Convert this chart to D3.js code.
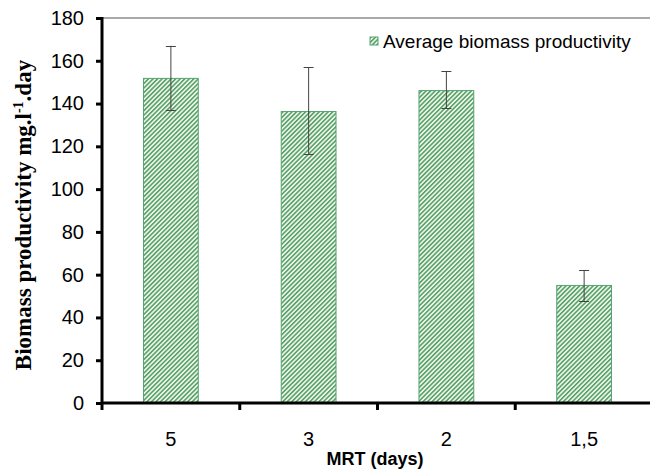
<!DOCTYPE html>
<html>
<head>
<meta charset="utf-8">
<script src="https://cdn.jsdelivr.net/npm/d3@7"></script>
<style>
  body { margin: 0; background: #fff; }
  svg { display: block; }
</style>
</head>
<body>
<script>
(function () {

    //chart data
    var categories = ["5", "3", "2", "1,5"];
    var productivity = [152, 136.5, 146.3, 55.2];
    var errLow = [137, 116.5, 137.8, 47.8];
    var errHigh = [167, 157, 155, 62.2];
    var yTicks = [0, 20, 40, 60, 80, 100, 120, 140, 160, 180];

    var width = 650, height = 470;
    var left = 102, right = 653, top = 18, bottom = 403;
    var sans = "Arial, 'Liberation Sans', sans-serif";

    var svg = d3.select("body").append("svg")
        .attr("width", width)
        .attr("height", height);

    //hatch pattern for the bars
    var defs = svg.append("defs");
    var pat = defs.append("pattern")
        .attr("id", "hatch")
        .attr("patternUnits", "userSpaceOnUse")
        .attr("width", 3.2)
        .attr("height", 3.2)
        .attr("patternTransform", "rotate(45)");
    pat.append("rect").attr("width", 3.2).attr("height", 3.2).attr("fill", "#f2f1e4");
    pat.append("rect").attr("width", 1.5).attr("height", 3.2).attr("fill", "#4aa169");

    var x = d3.scaleBand()
        .domain(categories)
        .range([left, right])
        .paddingInner(0.595)
        .paddingOuter(0.2975);

    var y = d3.scaleLinear()
        .domain([0, 180])
        .range([bottom, top]);

    //top frame line
    svg.append("line")
        .attr("x1", left).attr("x2", width)
        .attr("y1", y(180)).attr("y2", y(180))
        .attr("stroke", "#555").attr("stroke-width", 1);

    //bars
    svg.selectAll(".bar")
        .data(productivity)
        .enter()
        .append("rect")
        .attr("class", "bar")
        .attr("x", function (d, i) { return x(categories[i]) + 0.5; })
        .attr("y", function (d) { return y(d) + 0.5; })
        .attr("width", x.bandwidth() - 1)
        .attr("height", function (d) { return y(0) - y(d) - 0.5; })
        .attr("fill", "url(#hatch)")
        .attr("stroke", "#55a372")
        .attr("stroke-width", 1);

    //error bars
    var eb = svg.selectAll(".err")
        .data(productivity)
        .enter()
        .append("g")
        .attr("class", "err")
        .attr("stroke", "#444")
        .attr("stroke-width", 1);
    eb.append("line")
        .attr("x1", function (d, i) { return x(categories[i]) + x.bandwidth() / 2; })
        .attr("x2", function (d, i) { return x(categories[i]) + x.bandwidth() / 2; })
        .attr("y1", function (d, i) { return y(errLow[i]); })
        .attr("y2", function (d, i) { return y(errHigh[i]); });
    [errLow, errHigh].forEach(function (arr) {
        eb.append("line")
            .attr("x1", function (d, i) { return x(categories[i]) + x.bandwidth() / 2 - 5; })
            .attr("x2", function (d, i) { return x(categories[i]) + x.bandwidth() / 2 + 5; })
            .attr("y1", function (d, i) { return Math.round(y(arr[i])) + 0.5; })
            .attr("y2", function (d, i) { return Math.round(y(arr[i])) + 0.5; });
    });

    //y axis
    var yAxis = svg.append("g")
        .attr("transform", "translate(" + left + ",0)")
        .call(d3.axisLeft(y).tickValues(yTicks).tickSize(6).tickPadding(12));
    yAxis.select(".domain").attr("stroke", "#000").attr("stroke-width", 3)
        .attr("d", "M0," + (y(180) - 1) + "V" + (bottom + 1));
    yAxis.selectAll(".tick line").attr("stroke", "#000").attr("stroke-width", 3);
    yAxis.selectAll(".tick text")
        .attr("font-family", sans)
        .attr("font-size", 20)
        .attr("fill", "#000");

    //x axis: labels
    var xAxis = svg.append("g")
        .attr("transform", "translate(0," + bottom + ")")
        .call(d3.axisBottom(x).tickSize(0).tickPadding(29));
    xAxis.select(".domain").attr("stroke", "#000").attr("stroke-width", 3)
        .attr("d", "M" + (left - 1) + ",0H" + width);
    xAxis.selectAll(".tick text")
        .attr("font-family", sans)
        .attr("font-size", 20)
        .attr("fill", "#000");

    //x axis: tick marks at band boundaries
    var bounds = categories.map(function (c) { return x(c) - x.step() * x.paddingInner() / 2; });
    bounds[0] = left;
    svg.selectAll(".xtick")
        .data(bounds)
        .enter()
        .append("line")
        .attr("class", "xtick")
        .attr("x1", function (d) { return d; })
        .attr("x2", function (d) { return d; })
        .attr("y1", bottom)
        .attr("y2", bottom + 7)
        .attr("stroke", "#000")
        .attr("stroke-width", 3);

    //axis titles
    svg.append("text")
        .attr("x", 375)
        .attr("y", 465)
        .attr("text-anchor", "middle")
        .attr("font-family", sans)
        .attr("font-weight", "bold")
        .attr("font-size", 18)
        .text("MRT (days)");

    var yTitle = svg.append("text")
        .attr("transform", "translate(31,215) rotate(-90)")
        .attr("text-anchor", "middle")
        .attr("font-family", "'Liberation Serif', 'Times New Roman', serif")
        .attr("font-weight", "bold")
        .attr("font-size", 23);
    yTitle.append("tspan").text("Biomass productivity mg.l");
    yTitle.append("tspan").attr("dy", -8).attr("font-size", 14).text("-1");
    yTitle.append("tspan").attr("dy", 8).text(".day");

    //legend
    var legend = svg.append("g").attr("transform", "translate(370,37)");
    legend.append("rect")
        .attr("width", 8).attr("height", 8)
        .attr("fill", "url(#hatch)")
        .attr("stroke", "#55a372");
    legend.append("text")
        .attr("x", 13)
        .attr("y", 11)
        .attr("font-family", sans)
        .attr("font-size", 19)
        .text("Average biomass productivity");

})();
</script>
</body>
</html>
